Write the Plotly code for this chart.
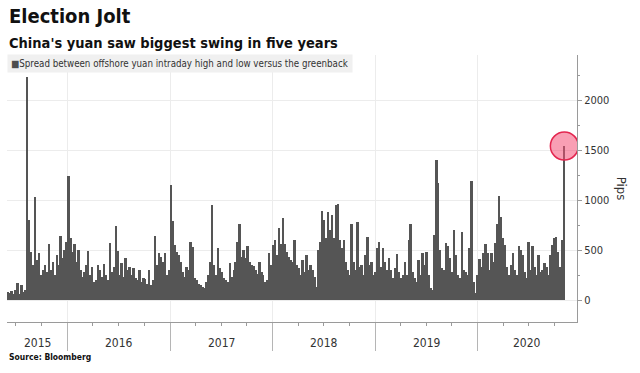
import plotly.graph_objects as go
import pandas as pd

title = "Election Jolt"
subtitle = "China's yuan saw biggest swing in five years"
series_name = "Spread between offshore yuan intraday high and low versus the greenback"
source = "Source: Bloomberg"
y_title = "Pips"

# weekly samples (mid-week)
first_week = "2015-06-03"
pips_2015 = [80, 70, 90, 60, 100, 170, 60, 150, 80, 100, 2230, 800, 480, 350, 1030, 400,
             470, 250, 300, 350, 280, 560, 300, 380, 250, 450, 350, 640, 420, 500, 580]
pips_2016 = [1240, 620, 480, 560, 380, 500, 300, 230, 280, 350, 490, 250, 330, 180, 200,
             350, 300, 230, 360, 250, 200, 570, 280, 330, 740, 490, 250, 370, 230, 420,
             300, 330, 250, 320, 220, 200, 300, 180, 220, 210, 160, 300, 150, 200, 640,
             350, 470, 430, 380, 470, 250, 300]
pips_2017 = [1150, 790, 550, 480, 450, 380, 280, 230, 330, 300, 580, 530, 220, 200, 160,
             150, 130, 120, 180, 250, 380, 950, 350, 250, 520, 320, 280, 220, 200, 180,
             370, 230, 300, 380, 580, 760, 430, 500, 420, 540, 380, 350, 340, 300, 260,
             380, 280, 250, 180, 200, 470, 350]
pips_2018 = [550, 600, 450, 720, 560, 820, 560, 480, 430, 400, 380, 600, 350, 320, 250,
             400, 280, 450, 300, 350, 300, 230, 130, 500, 580, 890, 800, 620, 880, 700,
             850, 620, 950, 960, 600, 520, 600, 380, 300, 250, 760, 380, 300, 780, 330,
             350, 250, 450, 627, 350, 383, 250, 280]
pips_2019 = [517, 583, 330, 517, 380, 300, 417, 300, 220, 320, 460, 280, 220, 250, 383,
             250, 600, 757, 280, 220, 180, 400, 250, 473, 350, 483, 250, 120, 100, 650,
             1400, 1170, 500, 320, 300, 567, 540, 420, 280, 700, 450, 250, 220, 683, 300,
             280, 250, 517, 1190, 180, 70, 250]
pips_2020 = [407, 330, 467, 557, 467, 300, 467, 380, 567, 760, 1043, 833, 617, 550, 330,
             250, 350, 467, 300, 250, 540, 500, 450, 280, 217, 583, 300, 540, 330, 250,
             450, 280, 300, 367, 330, 250, 450, 550, 617, 627, 483, 330, 600, 1540]

years = [2015, 2016, 2017, 2018, 2019, 2020]
x_start, x_end = "2015-05-31", "2020-12-19"

values = pips_2015 + pips_2016 + pips_2017 + pips_2018 + pips_2019 + pips_2020
dates = pd.date_range(first_week, periods=len(values), freq="7D")

FONT = "DejaVu Sans Condensed, DejaVu Sans, sans-serif"
PLOT_TOP, PLOT_BOTTOM = 55, 322
H = PLOT_BOTTOM - PLOT_TOP


def py(px):
    return (PLOT_BOTTOM - px) / H


fig = go.Figure()
fig.add_trace(go.Bar(
    x=dates, y=values, width=7 * 86400000,
    marker=dict(color="#555555", line=dict(width=0)),
    showlegend=False, hoverinfo="skip", name=series_name,
))
fig.add_trace(go.Scatter(
    x=[dates[-1]], y=[values[-1]], mode="markers",
    marker=dict(size=28, color="rgba(244,80,118,0.55)",
                line=dict(color="#e3264f", width=1.5)),
    showlegend=False, hoverinfo="skip",
))

fig.update_layout(
    width=640, height=373,
    margin=dict(l=7, r=63, t=PLOT_TOP, b=373 - PLOT_BOTTOM),
    paper_bgcolor="white", plot_bgcolor="white",
    bargap=0, font=dict(family=FONT, color="#333"),
)
fig.update_xaxes(
    type="date", range=[x_start, x_end],
    tick0="2016-01-01", dtick="M12",
    ticks="outside", ticklen=28, tickcolor="#b5b5b5", tickwidth=1,
    showticklabels=False,
    showgrid=True, gridcolor="#ececec", gridwidth=1,
    showline=True, linecolor="#9a9a9a", linewidth=1,
    minor=dict(dtick="M3", ticks="outside", ticklen=3, tickcolor="#9a9a9a", showgrid=False),
    zeroline=False, fixedrange=True,
)
fig.update_yaxes(
    side="right", range=[-220, 2450],
    tick0=0, dtick=500,
    ticks="outside", ticklen=4, tickcolor="#9a9a9a",
    tickfont=dict(size=11, color="#333"),
    showgrid=True, gridcolor="#ececec", gridwidth=1,
    showline=True, linecolor="#9a9a9a", linewidth=1,
    minor=dict(dtick=250, ticks="outside", ticklen=2, tickcolor="#9a9a9a", showgrid=False),
    zeroline=False, fixedrange=True,
)

ann = []
ann.append(dict(text="<b>" + title + "</b>", x=0, xref="paper", xanchor="left",
                y=py(16.5), yref="paper", yanchor="middle", showarrow=False,
                font=dict(size=20, color="#111")))
ann.append(dict(text="<b>" + subtitle + "</b>", x=0, xref="paper", xanchor="left",
                y=py(43), yref="paper", yanchor="middle", showarrow=False,
                font=dict(size=14.5, color="#111")))
ann.append(dict(text="<span style='color:#4d4d4d'>■</span>" + series_name,
                x=0, xref="paper", xanchor="left",
                y=py(64), yref="paper", yanchor="middle", showarrow=False,
                bgcolor="#f0f0f0", borderpad=3,
                font=dict(size=9.7, color="#333")))

xs, xe = pd.Timestamp(x_start), pd.Timestamp(x_end)
for yr in years:
    a = max(pd.Timestamp(f"{yr}-01-01"), xs)
    b = min(pd.Timestamp(f"{yr + 1}-01-01"), xe)
    mid = a + (b - a) / 2
    ann.append(dict(text=str(yr), x=mid, xref="x", xanchor="center",
                    y=py(343), yref="paper", yanchor="middle", showarrow=False,
                    font=dict(size=12, color="#333")))

ann.append(dict(text="<b>" + source + "</b>", x=0, xref="paper", xanchor="left",
                y=py(357), yref="paper", yanchor="middle", showarrow=False,
                font=dict(size=8.5, color="#111")))
ann.append(dict(text=y_title, x=(621.7 - 7) / 570, xref="paper", xanchor="center",
                y=0.5, yref="paper", yanchor="middle", showarrow=False, textangle=90,
                font=dict(size=13, color="#333")))
fig.update_layout(annotations=ann)

fig.write_html(
    "out.html",
    config={"displayModeBar": False},
    post_script="document.body.style.margin='0';document.body.style.padding='0';",
)
